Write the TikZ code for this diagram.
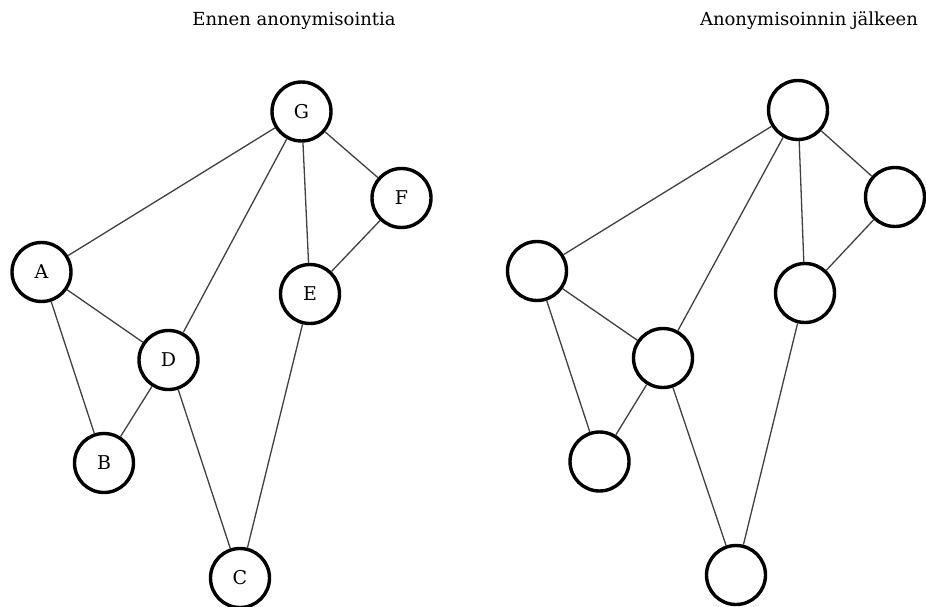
\documentclass[tikz,border=0pt]{standalone}
\usepackage{fontspec}
\setmainfont{DejaVu Serif}
\begin{document}
\begin{tikzpicture}[x=1pt,y=-1pt,
  vert/.style={circle,draw=black,line width=3.4pt,minimum size=59pt,inner sep=0pt,font=\fontsize{19}{19}\selectfont},
  edge/.style={draw=black!75,line width=1.3pt},
  title/.style={font=\fontsize{18}{18}\selectfont,anchor=base}]
\useasboundingbox (0,0) rectangle (926,607);
\clip (0,0) rectangle (926,607);
\node[title] (t1) at (294,26) {Ennen anonymisointia};
\node[title] (t2) at (809,26) {Anonymisoinnin jälkeen};
% left graph
\node[vert] (G) at (301.5,111.5) {G};
\node[vert] (F) at (401.5,198) {F};
\node[vert] (A) at (41.5,272) {A};
\node[vert] (E) at (310,294) {E};
\node[vert] (D) at (168.5,360) {D};
\node[vert] (B) at (104,463) {B};
\node[vert] (C) at (240,578) {C};
% right graph
\node[vert] (G2) at (798,110) {};
\node[vert] (F2) at (895,197) {};
\node[vert] (A2) at (537,271) {};
\node[vert] (E2) at (805,293) {};
\node[vert] (D2) at (663,358) {};
\node[vert] (B2) at (599.5,461.5) {};
\node[vert] (C2) at (736,575) {};
\foreach \s in {,2}{
  \draw[edge] (G\s) -- (A\s);
  \draw[edge] (G\s) -- (D\s);
  \draw[edge] (G\s) -- (E\s);
  \draw[edge] (G\s) -- (F\s);
  \draw[edge] (F\s) -- (E\s);
  \draw[edge] (A\s) -- (D\s);
  \draw[edge] (A\s) -- (B\s);
  \draw[edge] (D\s) -- (B\s);
  \draw[edge] (D\s) -- (C\s);
  \draw[edge] (E\s) -- (C\s);
}
\end{tikzpicture}
\end{document}
